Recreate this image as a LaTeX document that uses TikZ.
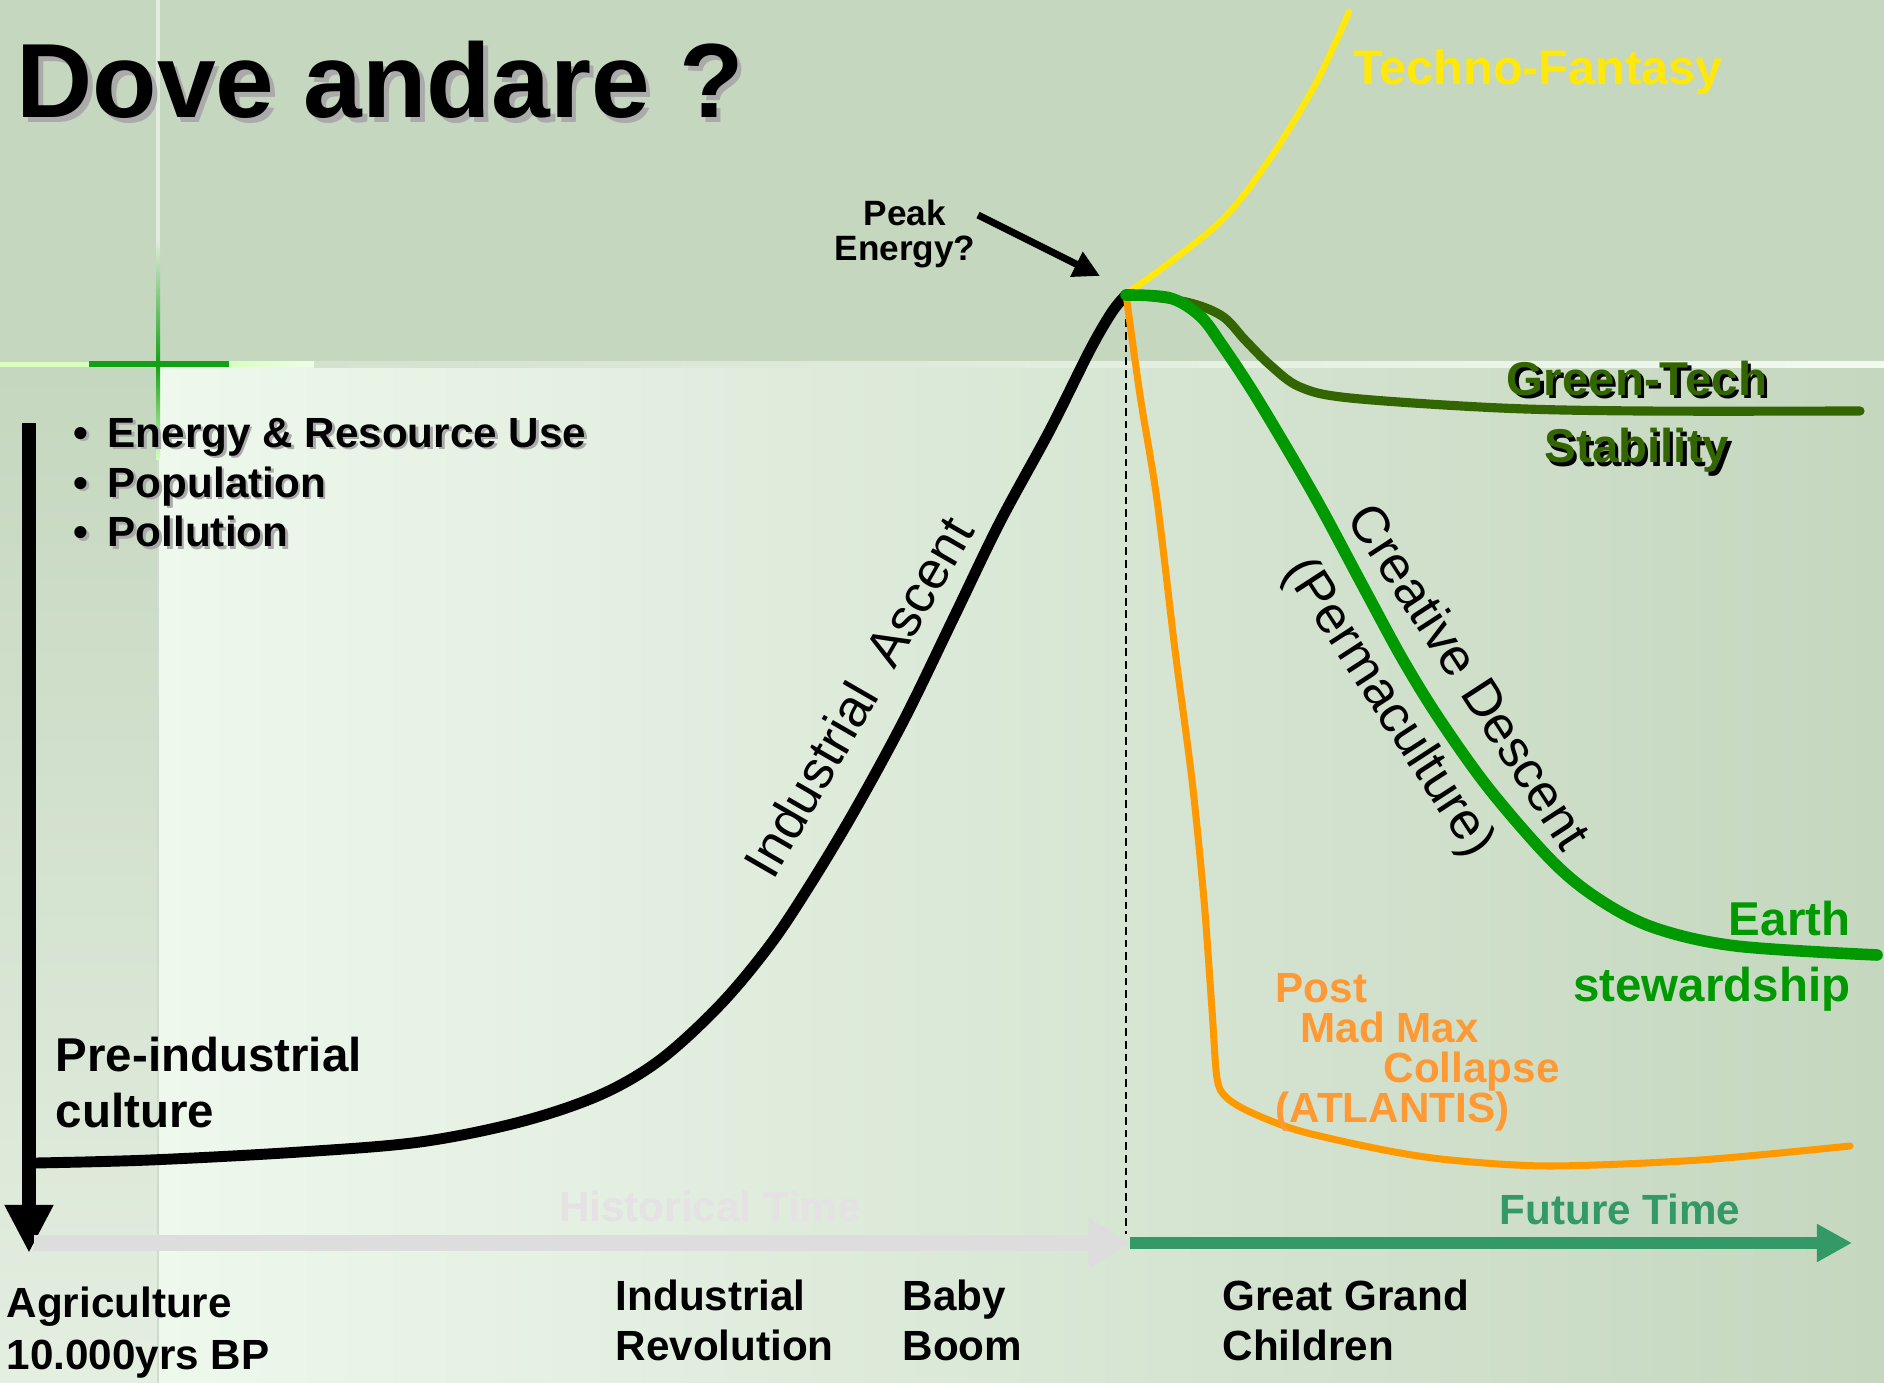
\documentclass[tikz,border=0pt]{standalone}
\usepackage{fontspec}
\setmainfont{Liberation Sans}
\usepackage{tikz}
\usetikzlibrary{arrows.meta,calc}

\definecolor{sage}{RGB}{197,215,191}
\definecolor{paleleaf}{RGB}{238,248,237}
\definecolor{stripfoot}{RGB}{228,238,225}
\definecolor{lineleft}{RGB}{210,226,205}
\definecolor{lineright}{RGB}{242,250,240}
\definecolor{crosspale}{RGB}{226,236,222}
\definecolor{crossgreen}{RGB}{20,160,20}
\definecolor{crosslight}{RGB}{215,255,190}
\definecolor{techyellow}{RGB}{255,232,10}
\definecolor{techgreen}{RGB}{51,102,0}
\definecolor{earthgreen}{RGB}{0,153,0}
\definecolor{madorange}{RGB}{255,153,0}
\definecolor{madtext}{RGB}{255,153,51}
\definecolor{futuregreen}{RGB}{51,153,102}
\definecolor{histgray}{RGB}{221,221,221}
\definecolor{histtext}{RGB}{229,225,229}
\definecolor{shadowgray}{RGB}{170,170,170}

\newcommand{\dropshadow}[3]{\rlap{\kern#1\raisebox{-#1}{\color{#2}#3}}#3}

\tikzset{
  tag/.style={inner sep=0pt, font=\bfseries\fontsize{12}{14.5}\selectfont},
  bigtag/.style={inner sep=0pt, font=\bfseries\fontsize{13.5}{16.2}\selectfont},
  slopetag/.style={inner sep=0pt, font=\fontsize{14.8}{17}\selectfont},
  scenario/.style={line width=#1, line cap=round, line join=round}
}

\begin{document}
\begin{tikzpicture}[x=0.01cm, y=-0.01cm]
\useasboundingbox (0,0) rectangle (1884,1383);
% slide background
\fill[sage] (0,0) rectangle (1884,364);
\shade[top color=sage, bottom color=stripfoot] (0,364) rectangle (158,1383);
\shade[left color=paleleaf, right color=sage] (158,364) rectangle (1884,1383);
\shade[left color=lineleft, right color=lineright] (314,362) rectangle (1884,368);
\draw[line width=1.1pt, crosspale] (158,0) -- (158,364);
\draw[line width=0.4pt, sage!90!black!60] (158,460) -- (158,1383);
\shade[top color=crosspale, bottom color=crossgreen] (156,240) rectangle (160,364);
\shade[top color=crossgreen, bottom color=crosslight] (156,364) rectangle (160,460);
\fill[crosslight] (0,362) rectangle (89,367);
\shade[left color=crossgreen, middle color=crosslight, right color=crossgreen] (89,362) rectangle (229,367);
\shade[left color=crosslight, right color=crosslight!40!white] (229,362) rectangle (314,367);

\coordinate (peak) at (1126,294);
\coordinate (arrowfoot) at (978,215);
\coordinate (arrowtip) at (1100,276);
\coordinate (axistop) at (29,423);
\coordinate (axisfoot) at (29,1253);
\coordinate (histstart) at (34,1243);
\coordinate (now) at (1130,1243);
\coordinate (future) at (1852,1243);
\coordinate (dashfoot) at (1126,1234);

% time axes
\draw[line width=4pt, -{Triangle[length=13.7pt,width=13pt]}] (axistop) -- (axisfoot);
\draw[histgray, line width=4.6pt, -{Triangle[length=11.7pt,width=13.4pt]}] (histstart) -- (now);
\draw[futuregreen, line width=3.4pt, -{Triangle[length=10pt,width=10.2pt]}] (now) -- (future);
\draw[line width=0.6pt, dash pattern=on 2.2pt off 1.4pt] (peak) -- (dashfoot);

% the curves
\draw[scenario=3.1pt] plot[smooth, tension=0.55] coordinates {(36,1163) (150,1160) (300,1152) (420,1142) (520,1122) (600,1095) (660,1060) (720,1005) (770,945) (810,885) (855,810) (905,718) (955,615) (1000,522) (1050,430) (1090,350) (1112,312) (1126,295)};
\draw[techyellow, scenario=1.8pt] plot[smooth, tension=0.55] coordinates {(1126,294) (1169,263) (1225,217) (1271,157) (1316,83) (1349,12)};
\draw[madorange, scenario=2pt] plot[smooth, tension=0.5] coordinates {(1126,294) (1140,395) (1157,500) (1175,650) (1192,780) (1204,900) (1212,1010) (1217,1078) (1226,1097) (1250,1112) (1300,1131) (1384,1150) (1450,1160) (1550,1166) (1700,1160) (1850,1146)};
\draw[techgreen, scenario=2.6pt] plot[smooth, tension=0.55] coordinates {(1126,294) (1186,302) (1222,316) (1245,340) (1270,365) (1300,387) (1350,398) (1500,408) (1640,411) (1860,411)};
\draw[earthgreen, scenario=3.3pt] plot[smooth, tension=0.55] coordinates {(1126,295) (1170,298) (1200,316) (1222,345) (1258,400) (1315,497) (1365,590) (1403,660) (1440,720) (1490,790) (1553,862) (1600,900) (1655,928) (1736,946) (1877,955)};

% titles and labels
\node[anchor=base west, inner sep=0pt, font=\bfseries\fontsize{30}{36}\selectfont] (title) at (16,118) {\dropshadow{1.3pt}{shadowgray}{Dove andare ?}};
\node[tag, anchor=base west, align=left, font=\bfseries\fontsize{12}{14.2}\selectfont] (measures) at (73,547)
  {\dropshadow{0.7pt}{shadowgray}{\textbullet\hspace{5.5pt}Energy \& Resource Use}\\
   \dropshadow{0.7pt}{shadowgray}{\textbullet\hspace{5.5pt}Population}\\
   \dropshadow{0.7pt}{shadowgray}{\textbullet\hspace{5.5pt}Pollution}};
\node[anchor=base, align=center, inner sep=0pt, font=\bfseries\fontsize{10}{10}\selectfont] (peaklbl) at (905,261) {Peak\\Energy?};
\draw[line width=2pt, -{Triangle[length=7.5pt,width=7.5pt]}] (arrowfoot) -- (arrowtip);

\node[bigtag, anchor=base west, text=techyellow, font=\bfseries\fontsize{13.8}{16.2}\selectfont] (fantasy) at (1353,85) {Techno-Fantasy};
\node[bigtag, anchor=base, align=center, text=techgreen, font=\bfseries\fontsize{13.5}{19.3}\selectfont] (greentech) at (1637,463)
  {\dropshadow{0.9pt}{black}{Green-Tech}\\\dropshadow{0.9pt}{black}{Stability}};
\node[slopetag, rotate=60, font=\fontsize{15}{17}\selectfont] (ascent) at (858,697) {Industrial\ \ Ascent};
\node[slopetag, rotate=-57] (descent) at (1470,676) {Creative Descent};
\node[slopetag, rotate=-57] (permaculture) at (1388,708) {(Permaculture)};
\node[bigtag, anchor=base east, align=right, text=earthgreen, font=\bfseries\fontsize{13.5}{18.8}\selectfont] (earth) at (1851,1002) {Earth\\stewardship};
\node[tag, anchor=base west, align=left, text=madtext, font=\bfseries\fontsize{12}{11.4}\selectfont] (madmax) at (1275,1123)
  {Post\\\hspace*{7.1pt}Mad Max\\\hspace*{30.7pt}Collapse\\(ATLANTIS)};
\node[bigtag, anchor=base west, align=left] (preind) at (55,1128) {Pre-industrial\\culture};

% time line labels
\node[tag, anchor=base, text=histtext] (histtime) at (710,1222) {Historical Time};
\node[tag, anchor=base, text=futuregreen] (futtime) at (1620,1225) {Future Time};
\node[tag, anchor=base west, align=left, font=\bfseries\fontsize{12}{14.8}\selectfont] (agri) at (6,1370) {Agriculture\\10.000yrs BP};
\node[tag, anchor=base west, align=left] (indrev) at (615,1361) {Industrial\\Revolution};
\node[tag, anchor=base west, align=left] (babyboom) at (902,1361) {Baby\\Boom};
\node[tag, anchor=base west, align=left] (grandkids) at (1222,1361) {Great Grand\\Children};
\end{tikzpicture}
\end{document}
